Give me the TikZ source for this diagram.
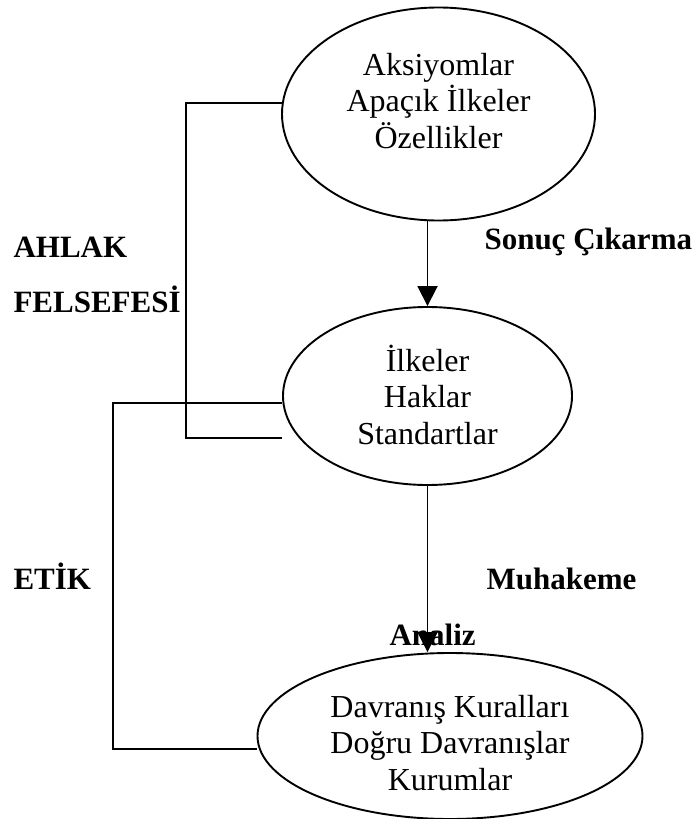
\documentclass[tikz,border=0pt]{standalone}
\usepackage{fontspec}
\setmainfont{Liberation Serif}
\usepackage{xcolor}
\usetikzlibrary{shapes.geometric,arrows.meta}
\definecolor{inkblack}{RGB}{0,0,0}

\begin{document}
\begin{tikzpicture}[x=1pt,y=-1pt,
    oval/.style={ellipse, draw=inkblack, line width=1.9pt, inner sep=0pt},
    ovaltext/.style={align=center, inkblack, font=\fontsize{32}{36.5}\selectfont},
    sidelabel/.style={anchor=base west, inkblack, font=\fontsize{31}{36}\selectfont\bfseries},
    link/.style={inkblack, line width=1.9pt},
    flow/.style={link, -{Triangle[width=20pt,length=20pt]}}]
    \useasboundingbox (0,0) rectangle (696,819);

    % Three levels
    \node[oval, minimum width=313pt, minimum height=213pt] (top) at (438.5,114) {};
    \node[ovaltext] (toptext) at (438.5,101) {Aksiyomlar\\Apaçık İlkeler\\Özellikler};

    \node[oval, minimum width=289pt, minimum height=178pt] (mid) at (427.5,396) {};
    \node[ovaltext] (midtext) at (427.5,394.5) {İlkeler\\Haklar\\Standartlar};

    \node[oval, minimum width=385pt, minimum height=166pt] (bot) at (450,736) {};
    \node[ovaltext] (bottext) at (450,743) {Davranış Kuralları\\Doğru Davranışlar\\Kurumlar};

    % Downward arrows
    \draw[flow] (mid.north |- top.south) -- (mid.north);
    \draw[flow] (mid.south) -- (mid.south |- bot.north);

    % Brackets on the left
    \draw[link] (top.176) -- ++(-96,0) |- ([yshift=-42pt]mid.west);
    \draw[link] ([yshift=-7pt]mid.west) -- ++(-169,0) |- ([yshift=-13pt]bot.west);

    % Labels
    \node[sidelabel] (ahlak) at (10,257) {AHLAK};
    \node[sidelabel] (felsefe) at (10,312) {FELSEFESİ};
    \node[sidelabel] (etik) at (10,589) {ETİK};
    \node[sidelabel] (sonuc) at (481,249) {Sonuç Çıkarma};
    \node[sidelabel] (muhakeme) at (483,589) {Muhakeme};
    \node[sidelabel] (analiz) at (386,645) {Analiz};
\end{tikzpicture}
\end{document}
